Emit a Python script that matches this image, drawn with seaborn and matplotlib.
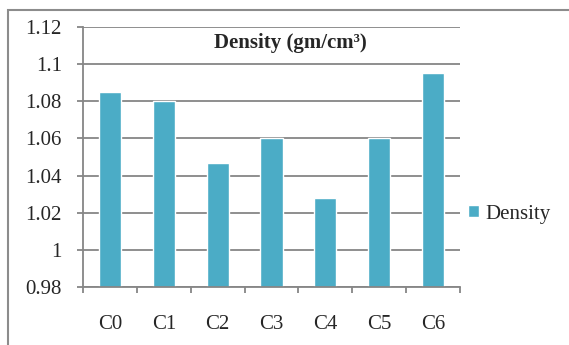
import matplotlib
matplotlib.use('Agg')
import matplotlib.pyplot as plt
import matplotlib.patches as patches
import pandas as pd
import seaborn as sns

sns.set_style('white')
plt.rcParams['font.family'] = ['Liberation Serif', 'DejaVu Serif']

categories = ['C0', 'C1', 'C2', 'C3', 'C4', 'C5', 'C6']
density = [1.085, 1.080, 1.047, 1.060, 1.028, 1.060, 1.095]
y_ticks = [0.98, 1.00, 1.02, 1.04, 1.06, 1.08, 1.10, 1.12]
y_labels = ['0.98', '1', '1.02', '1.04', '1.06', '1.08', '1.1', '1.12']
series_name = 'Density'
title = 'Density (gm/cm³)'

bar_color = '#4BACC6'
grid_color = '#868686'

df = pd.DataFrame({'sample': categories, 'value': density})

W, H = 569, 345
fig = plt.figure(figsize=(W / 100, H / 100), dpi=100)

# Outer chart frame (Excel style), partly cropped on right and bottom
fig.patches.append(patches.Rectangle((8 / W, -0.1), 1.2, 1 - 10 / H + 0.1,
                                     transform=fig.transFigure, fill=False,
                                     edgecolor='#8c8c8c', linewidth=1.5))

ax = fig.add_axes([83 / W, 1 - 287 / H, (460 - 83) / W, (287 - 27) / H])
sns.barplot(data=df, x='sample', y='value', color=bar_color, width=0.41,
            saturation=1, ax=ax, label=series_name)

ax.set_ylim(y_ticks[0], y_ticks[-1])
ax.set_xlim(-0.5, len(categories) - 0.5)
ax.set_yticks(y_ticks)
ax.set_yticklabels(y_labels)
ax.set_xlabel('')
ax.set_ylabel('')

# Gridlines behind bars
ax.set_axisbelow(True)
ax.yaxis.grid(True, color=grid_color, linewidth=1.3)
ax.xaxis.grid(False)

# Spines
for s in ['top', 'right']:
    ax.spines[s].set_visible(False)
for s in ['left', 'bottom']:
    ax.spines[s].set_color(grid_color)
    ax.spines[s].set_linewidth(1.3)

# Ticks: y outward, x separators between categories
ax.tick_params(axis='y', direction='out', length=4.3, width=1.3,
               color=grid_color, pad=11, labelsize=15, left=True)
ax.set_xticks([i - 0.5 for i in range(len(categories) + 1)], minor=True)
ax.tick_params(axis='x', which='minor', direction='out', length=4.3,
               width=1.3, color=grid_color, bottom=True)
ax.tick_params(axis='x', which='major', length=0, pad=20, labelsize=15)

fig.text(290 / W, 1 - 43 / H, title, ha='center', va='center',
         fontsize=15, fontweight='bold')

ax.legend(loc='center left', bbox_to_anchor=(468 / W, 1 - 214 / H),
          bbox_transform=fig.transFigure, frameon=False, fontsize=15,
          handlelength=0.55, handleheight=0.55, handletextpad=0.3,
          borderpad=0, borderaxespad=0)

fig.savefig('out.png', dpi=100, facecolor='white')
